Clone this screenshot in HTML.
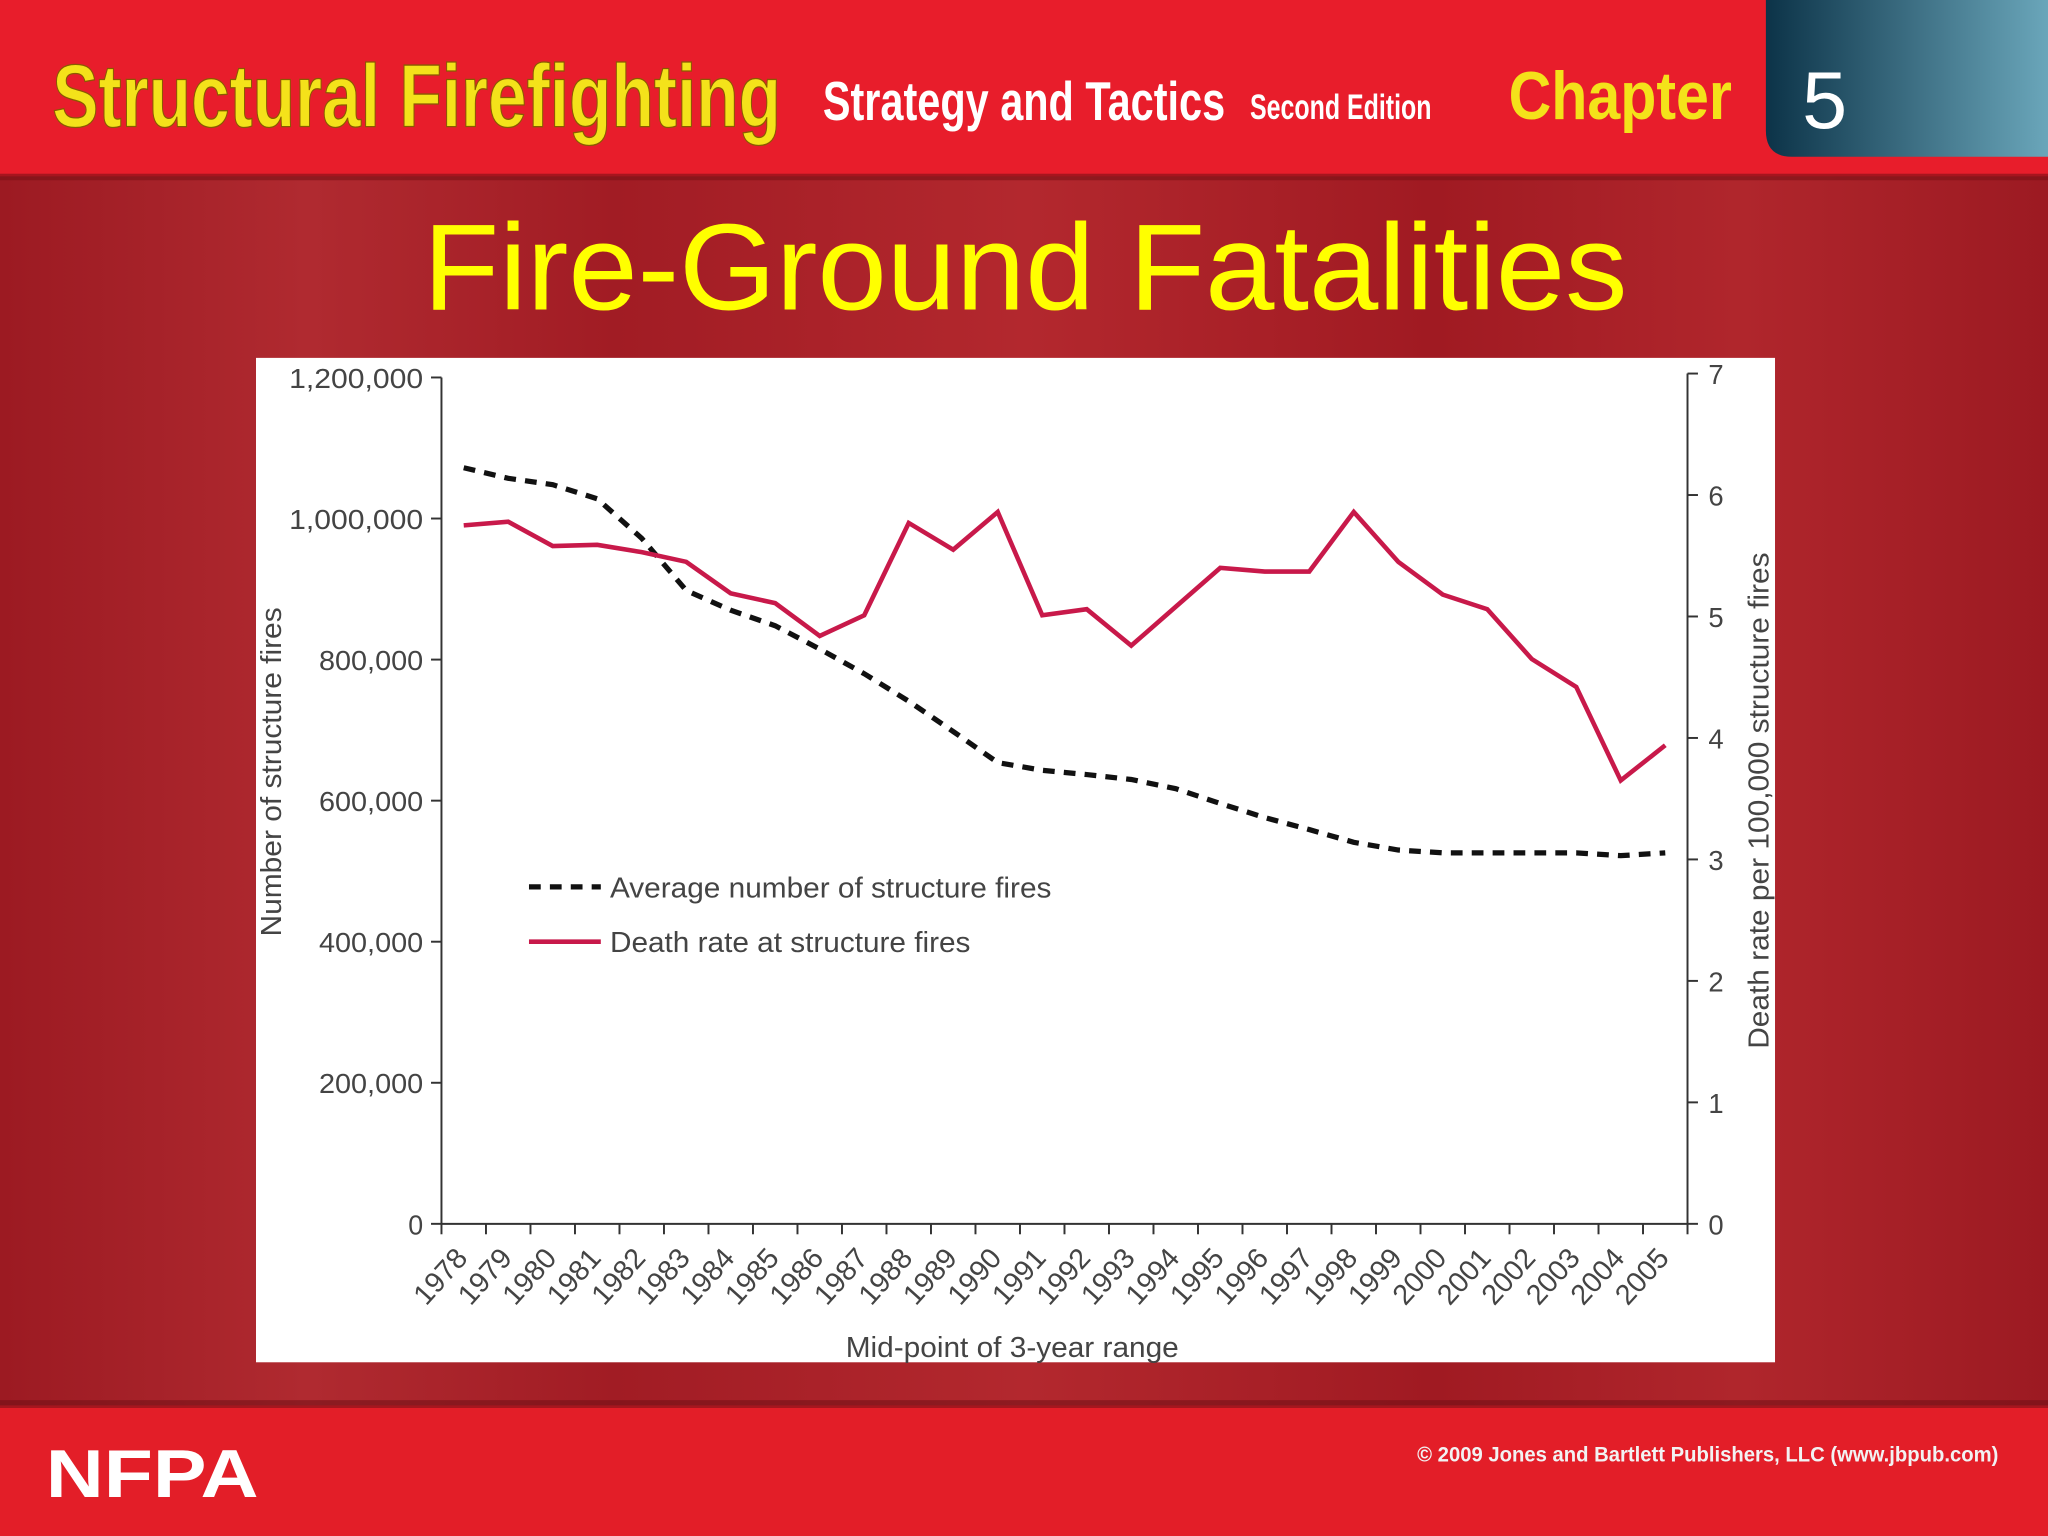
<!DOCTYPE html>
<html><head><meta charset="utf-8"><style>
html,body{margin:0;padding:0;background:#a51c24;}
svg{display:block;font-family:"Liberation Sans",sans-serif;}
</style></head><body>
<svg width="2048" height="1536" viewBox="0 0 1568 1176">
<defs>
<linearGradient id="bg" x1="0" x2="1" y1="0" y2="0">
<stop offset="0" stop-color="#9c1a22"/><stop offset="0.15" stop-color="#b02a30"/><stop offset="0.3" stop-color="#a11c24"/><stop offset="0.5" stop-color="#b3282e"/><stop offset="0.7" stop-color="#a01a22"/><stop offset="0.85" stop-color="#b0262c"/><stop offset="1" stop-color="#9c1a22"/>
</linearGradient>
<linearGradient id="ch" x1="0" x2="1"><stop offset="0" stop-color="#0c3348"/><stop offset="1" stop-color="#6aa6ba"/></linearGradient>
</defs>
<rect x="0" y="0" width="1568" height="1176" fill="url(#bg)"/>
<rect x="0" y="0" width="1568" height="135" fill="#e81d2b"/>
<rect x="0" y="133" width="1568" height="5" fill="#7a1016" opacity="0.6"/>
<text x="40" y="97" font-size="68" font-weight="bold" fill="#f4e21a" textLength="558" lengthAdjust="spacingAndGlyphs" stroke="#8a5a00" stroke-width="1">Structural Firefighting</text>
<text x="630" y="92" font-size="42" font-weight="bold" fill="#fff" textLength="308" lengthAdjust="spacingAndGlyphs">Strategy and Tactics</text>
<text x="957" y="91" font-size="27" font-weight="bold" fill="#fff" textLength="139" lengthAdjust="spacingAndGlyphs">Second Edition</text>
<text x="1155" y="91" font-size="52" font-weight="bold" fill="#f4e21a" textLength="171" lengthAdjust="spacingAndGlyphs">Chapter</text>
<path d="M1352 0 H1568 V120 H1372 Q1352 120 1352 100 Z" fill="url(#ch)"/>
<text x="1397" y="98" font-size="62" fill="#fff" text-anchor="middle">5</text>
<text x="785" y="237" font-size="94" fill="#ffff00" text-anchor="middle" textLength="922" lengthAdjust="spacingAndGlyphs">Fire-Ground Fatalities</text>
<rect x="0" y="1076" width="1568" height="100" fill="#e31e28"/>
<rect x="0" y="1072" width="1568" height="6" fill="#6a0e14" opacity="0.5"/>
<text x="35" y="1146" font-size="52" font-weight="bold" fill="#fff" textLength="163" lengthAdjust="spacingAndGlyphs">NFPA</text>
<text x="1530" y="1119" font-size="16" font-weight="bold" fill="#f2f2f2" text-anchor="end" textLength="445" lengthAdjust="spacingAndGlyphs">© 2009 Jones and Bartlett Publishers, LLC (www.jbpub.com)</text>
<rect x="196" y="274" width="1163" height="769" fill="#fff"/>
<g id="chart"></g>
</svg>
<script>
const years=[1978,1979,1980,1981,1982,1983,1984,1985,1986,1987,1988,1989,1990,1991,1992,1993,1994,1995,1996,1997,1998,1999,2000,2001,2002,2003,2004,2005];
const fires=[1072000,1057000,1048000,1028000,972000,898000,870000,848000,815000,780000,741000,698000,654000,643000,637000,630000,617000,596000,576000,559000,541000,530000,526000,526000,526000,526000,522000,526000];
const deathRate=[5.75,5.78,5.58,5.59,5.53,5.45,5.19,5.11,4.84,5.01,5.77,5.55,5.86,5.01,5.06,4.76,5.08,5.40,5.37,5.37,5.86,5.45,5.18,5.06,4.65,4.42,3.65,3.94];
const leftTicks=[0,200000,400000,600000,800000,1000000,1200000];
const leftTickLabels=["0","200,000","400,000","600,000","800,000","1,000,000","1,200,000"];
const rightTicks=[0,1,2,3,4,5,6,7];

const NS="http://www.w3.org/2000/svg";
const g=document.getElementById('chart');
const X0=338,X1=1292,Y0=937,Y1=289,YR1=286;
const step=(X1-X0)/years.length;
const xPos=i=>X0+step*(i+0.5);
const yL=v=>Y0-(v/1200000)*(Y0-Y1);
const yR=v=>Y0-(v/7)*(Y0-YR1);
function mk(tag,attrs,parent){const e=document.createElementNS(NS,tag);for(const k in attrs)e.setAttribute(k,attrs[k]);(parent||g).appendChild(e);return e;}
const axC="#333";
let e;
e=mk('line',{x1:X0,y1:Y1,x2:X0,y2:Y0,stroke:axC,'stroke-width':1.5});


e=mk('line',{x1:X1,y1:YR1,x2:X1,y2:Y0,stroke:axC,'stroke-width':1.5});


e=mk('line',{x1:X0,y1:Y0,x2:X1,y2:Y0,stroke:axC,'stroke-width':1.5});


leftTicks.forEach((v,i)=>{
  mk('line',{x1:X0-8,y1:yL(v),x2:X0,y2:yL(v),stroke:axC,'stroke-width':1.5});
  const t=mk('text',{x:X0-14,y:yL(v)+8,'font-size':21,fill:'#444','text-anchor':'end',textLength:leftTickLabels[i].length*11.4,lengthAdjust:'spacingAndGlyphs'});
  t.textContent=leftTickLabels[i];
  
  
});
rightTicks.forEach(v=>{
  mk('line',{x1:X1,y1:yR(v),x2:X1+8,y2:yR(v),stroke:axC,'stroke-width':1.5});
  const t=mk('text',{x:X1+16,y:yR(v)+8,'font-size':21,fill:'#444'});
  t.textContent=v;
  
  
});
for(let i=0;i<=years.length;i++){const x=X0+step*i;mk('line',{x1:x,y1:Y0,x2:x,y2:Y0+8,stroke:axC,'stroke-width':1.5});}
years.forEach((yr,i)=>{
  const x=X0+step*(i+0.5)+4,y=964;
  const t=mk('text',{x:x,y:y,'font-size':22,fill:'#444','text-anchor':'end',transform:`rotate(-48 ${x} ${y})`});
  t.textContent=yr;
  
  
});
let t=mk('text',{x:775,y:1039,'font-size':22,fill:'#444','text-anchor':'middle',textLength:255,lengthAdjust:'spacingAndGlyphs'});
t.textContent='Mid-point of 3-year range';


t=mk('text',{x:0,y:0,'font-size':22,fill:'#444','text-anchor':'middle',textLength:252,lengthAdjust:'spacingAndGlyphs',transform:'translate(215 591) rotate(-90)'});
t.textContent='Number of structure fires';


t=mk('text',{x:0,y:0,'font-size':22,fill:'#444','text-anchor':'middle',textLength:380,lengthAdjust:'spacingAndGlyphs',transform:'translate(1354 613) rotate(-90)'});
t.textContent='Death rate per 100,000 structure fires';


e=mk('polyline',{points:fires.map((v,i)=>xPos(i)+','+yL(v)).join(' '),fill:'none',stroke:'#111','stroke-width':4,'stroke-dasharray':'9 7'});


e=mk('polyline',{points:deathRate.map((v,i)=>xPos(i)+','+yR(v)).join(' '),fill:'none',stroke:'#c8194a','stroke-width':3.5,'stroke-linejoin':'miter'});


e=mk('line',{x1:405,y1:679,x2:460,y2:679,stroke:'#111','stroke-width':4,'stroke-dasharray':'9 7'});


t=mk('text',{x:467,y:687,'font-size':22,fill:'#444',textLength:338,lengthAdjust:'spacingAndGlyphs'});
t.textContent='Average number of structure fires';


e=mk('line',{x1:405,y1:721,x2:460,y2:721,stroke:'#c8194a','stroke-width':3.5});


t=mk('text',{x:467,y:729,'font-size':22,fill:'#444',textLength:276,lengthAdjust:'spacingAndGlyphs'});
t.textContent='Death rate at structure fires';


</script>
</body></html>
